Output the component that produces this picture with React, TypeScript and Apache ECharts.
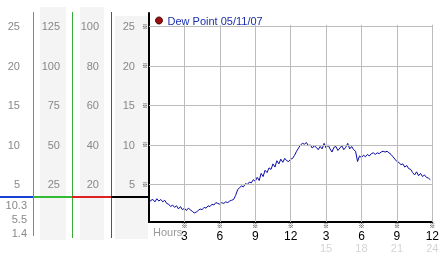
import React, { useEffect, useRef } from "react";
import * as echarts from "echarts";

// ---- data ----
const seriesName = "Dew Point 05/11/07";
const sampleStepHours = 1 / 6; // 10-minute readings
const dewPoint = [
  2.7, 3.0, 3.1, 2.8, 3.2, 2.9, 3.1,
  2.8, 3.0, 2.6, 2.5, 2.2, 2.4,
  2.1, 2.3, 1.9, 2.2, 1.8, 2.0,
  1.7, 2.0, 1.8, 1.6, 1.4, 1.5,
  1.7, 1.9, 1.8, 2.1, 2.0, 2.3,
  2.2, 2.5, 2.4, 2.7, 2.6, 2.5,
  2.7, 2.6, 2.8, 2.7, 2.9, 3.0,
  3.1, 3.6, 4.3, 4.6, 4.8, 4.7,
  5.1, 5.0, 5.3, 5.2, 5.6, 5.4,
  5.9, 5.5, 6.4, 6.0, 6.8, 6.5,
  7.1, 6.9, 7.6, 7.2, 8.0, 7.6,
  8.2, 7.8, 8.3, 8.0, 7.9, 8.2,
  8.3, 8.7, 9.2, 9.6, 10.0, 10.2,
  10.1, 10.3, 9.9, 10.0, 9.6, 9.9,
  9.7, 9.4, 9.8, 9.5, 10.2, 9.6,
  10.0, 9.5, 9.1, 9.7, 9.8, 9.3,
  9.6, 9.9, 9.4, 9.7, 10.2, 9.5,
  9.8, 9.4, 9.2, 7.9, 8.6, 8.4,
  8.7, 8.5, 8.8, 8.6, 8.9, 9.0,
  8.8, 9.0, 8.9, 9.1, 9.2, 9.1,
  9.2, 9.0, 8.8, 8.5, 8.2, 7.9,
  7.8, 7.5, 7.6, 7.2, 7.4, 7.0,
  6.9, 6.5, 6.2, 6.6, 6.1, 6.4,
  6.0, 6.2, 5.9, 5.8, 5.6,
];
const yTicks = [5, 10, 15, 20, 25];
const col2Labels = ["25", "50", "75", "100", "125"];
const col3Labels = ["20", "40", "60", "80", "100"];
const xTicks = [3, 6, 9, 12, 15, 18, 21, 24];
const xLabels = ["3", "6", "9", "12", "3", "6", "9", "12"];
const xSubLabels = ["", "", "", "", "15", "18", "21", "24"];
const statLabels = ["10.3", "5.5", "1.4"];
const xAxisTitle = "Hours";

const FONT = '"Liberation Sans", Arial, sans-serif';
const NARROW = '"Liberation Sans Narrow", "Liberation Sans", sans-serif';
const MARK_FONT = '"Noto Sans CJK JP", "DejaVu Sans", sans-serif';
const LABEL_GRAY = "#888888";

export default function App() {
  const ref = useRef<HTMLDivElement>(null);

  useEffect(() => {
    if (!ref.current) return;
    const chart = echarts.init(ref.current, undefined, { renderer: "svg" });
    const points = dewPoint.map((v, i) => [i * sampleStepHours, v]);
    const Y_MIN = 0.25;
    const Y_MAX = 26.69;

    const sideAxis = (offset: number, labels: string[] | null) => ({
      type: "value",
      position: "left",
      offset,
      min: Y_MIN,
      max: Y_MAX,
      axisLine: { show: false, lineStyle: { color: LABEL_GRAY } },
      axisTick: { show: false },
      splitLine: { show: false },
      axisLabel: {
        customValues: yTicks,
        margin: 0,
        color: LABEL_GRAY,
        formatter: (v: number) => {
          const i = yTicks.indexOf(v);
          if (i < 0) return "";
          return `{a|${labels ? labels[i] : String(v)}}`;
        },
        rich: {
          a: { color: LABEL_GRAY, fontSize: 11, fontFamily: FONT },
        },
      },
    });

    const vGrid = xTicks.map((t) => [
      { coord: [t, Y_MIN] },
      { coord: [t, 25.2] },
    ]);
    const hGrid = yTicks.map((t) => ({ yAxis: t }));

    const statsText = statLabels.map((s, i) => ({
      type: "text",
      right: 442 - 27,
      top: 199 + i * 14,
      z: 5,
      style: { text: s, fill: LABEL_GRAY, font: `11px ${FONT}` },
    }));

    chart.setOption({
      animation: false,
      backgroundColor: "#ffffff",
      grid: { left: 149, right: 4, top: 13, bottom: 28.5, containLabel: false },
      legend: {
        left: 155,
        top: 15,
        padding: 0,
        icon: "circle",
        itemWidth: 7,
        itemHeight: 7,
        textStyle: { color: "#1a2fae", fontSize: 11, fontFamily: FONT },
        data: [
          {
            name: seriesName,
            itemStyle: { color: "#9a1010", borderColor: "#4a0000", borderWidth: 1 },
          },
        ],
      },
      xAxis: {
        type: "value",
        min: 0,
        max: 24,
        interval: 3,
        axisLine: { show: true, lineStyle: { color: "#000", width: 2 } },
        axisTick: { show: false },
        splitLine: { show: false },
        axisLabel: {
          margin: 0,
          formatter: (v: number) => {
            const i = xTicks.indexOf(v);
            if (i < 0) return "";
            let s = `{m|※}\n{d|${xLabels[i]}}`;
            if (xSubLabels[i]) s += `\n{f|${xSubLabels[i]}}`;
            return s;
          },
          rich: {
            m: { fontSize: 6, lineHeight: 7, color: "#000", fontFamily: MARK_FONT },
            d: { fontSize: 12, lineHeight: 13, color: "#000", fontFamily: NARROW },
            f: { fontSize: 11, lineHeight: 11, color: "#d4d4d4", fontFamily: FONT },
          },
        },
      },
      yAxis: [
        {
          type: "value",
          position: "left",
          min: Y_MIN,
          max: Y_MAX,
          axisLine: { show: true, lineStyle: { color: "#000", width: 2 } },
          axisTick: { show: false },
          splitLine: { show: false },
          axisLabel: {
            customValues: yTicks,
            margin: 1,
            formatter: (v: number) => `{v|${v}}{g| }{m|※}`,
            rich: {
              v: { fontSize: 11, color: LABEL_GRAY, fontFamily: FONT },
              g: { width: 7, fontSize: 11 },
              m: { fontSize: 6, color: "#000", fontFamily: MARK_FONT },
            },
          },
        },
        sideAxis(50, col3Labels),
        sideAxis(89, col2Labels),
        sideAxis(129, null),
      ],
      series: [
        {
          type: "line",
          data: points,
          showSymbol: false,
          silent: true,
          z: 1,
          lineStyle: { opacity: 0 },
          markLine: {
            silent: true,
            symbol: ["none", "none"],
            label: { show: false },
            lineStyle: { color: "#bcbcbc", width: 1, type: "solid" },
            data: [...hGrid, ...vGrid],
          },
        },
        {
          name: seriesName,
          type: "line",
          data: points,
          showSymbol: false,
          z: 3,
          lineStyle: { color: "#0a0aa8", width: 1 },
          itemStyle: { color: "#0a0aa8" },
        },
      ],
      graphic: [
        { type: "rect", z: -10, shape: { x: 40, y: 7, width: 26, height: 233 }, style: { fill: "#f4f4f4" } },
        { type: "rect", z: -10, shape: { x: 80, y: 7, width: 24, height: 233 }, style: { fill: "#f4f4f4" } },
        { type: "rect", z: -10, shape: { x: 115, y: 16, width: 33, height: 223 }, style: { fill: "#f4f4f4" } },
        { type: "line", z: 5, shape: { x1: 33.5, y1: 12, x2: 33.5, y2: 236 }, style: { stroke: "#3b9ccf", lineWidth: 1 } },
        { type: "line", z: 5, shape: { x1: 72.5, y1: 12, x2: 72.5, y2: 238 }, style: { stroke: "#3aaa3a", lineWidth: 1 } },
        { type: "line", z: 5, shape: { x1: 111.5, y1: 12, x2: 111.5, y2: 238 }, style: { stroke: "#b03030", lineWidth: 1 } },
        { type: "line", z: 6, shape: { x1: 0, y1: 197, x2: 33, y2: 197 }, style: { stroke: "#1a3fd4", lineWidth: 2 } },
        { type: "line", z: 6, shape: { x1: 33, y1: 197, x2: 72, y2: 197 }, style: { stroke: "#33bb33", lineWidth: 2 } },
        { type: "line", z: 6, shape: { x1: 72, y1: 197, x2: 111, y2: 197 }, style: { stroke: "#dd2222", lineWidth: 2 } },
        { type: "line", z: 6, shape: { x1: 111, y1: 197, x2: 149, y2: 197 }, style: { stroke: "#000000", lineWidth: 2 } },
        ...statsText,
        {
          type: "text",
          left: 153,
          top: 226,
          z: 5,
          style: { text: xAxisTitle, fill: "#999999", font: `11px ${FONT}` },
        },
      ],
    });
    return () => chart.dispose();
  }, []);

  return (
    <div
      ref={ref}
      style={{
        position: "absolute",
        left: 0,
        top: 0,
        width: 442,
        height: 253,
        background: "#fff",
        opacity: 0.999,
        willChange: "transform",
      }}
    />
  );
}
